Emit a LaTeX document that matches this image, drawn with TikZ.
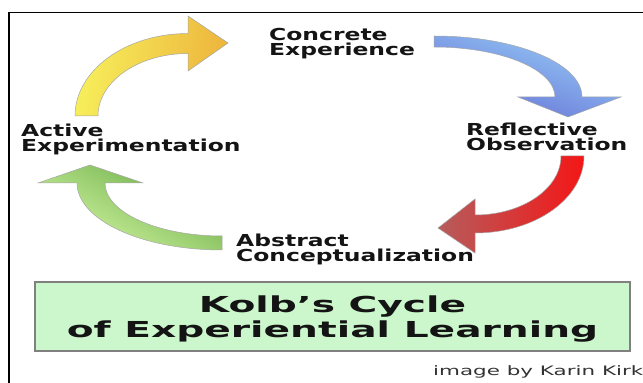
\documentclass[tikz,border=0pt]{standalone}
\usepackage{fontspec}
\setmainfont{DejaVu Sans}
\newfontfamily\lblfont[FakeStretch=1.42]{DejaVu Sans}
\newfontfamily\ttlfont[FakeStretch=1.78]{DejaVu Sans}
\newfontfamily\crfont[FakeStretch=1.65]{DejaVu Sans}
\definecolor{txt}{HTML}{141414}
\definecolor{yelA}{HTML}{F7F05C}
\definecolor{yelB}{HTML}{EDB43C}
\definecolor{bluA}{HTML}{96CCF6}
\definecolor{bluB}{HTML}{6670D6}
\definecolor{redA}{HTML}{F41616}
\definecolor{redB}{HTML}{B65C5C}
\definecolor{grnA}{HTML}{D6F7A4}
\definecolor{grnB}{HTML}{68AC46}
\definecolor{boxfill}{HTML}{CCF7CC}
\definecolor{boxline}{HTML}{808080}
\begin{document}
\begin{tikzpicture}[x=1pt,y=1pt,
  lbl/.style={anchor=base west, inner sep=0pt, align=left,
    font=\lblfont\bfseries\fontsize{16.5}{15}\selectfont, text=txt},
  arr/.style={draw=black!35, line width=0.5pt}]
\useasboundingbox (0,0) rectangle (643,383);
% frame
\draw[line width=1.3pt] (9,0) -- (9,370.3) -- (643,370.3);
% yellow arrow: Active -> Concrete
\path[arr, left color=yelA, right color=yelB, shading angle=80]
  (75,267) arc[start angle=180, end angle=90, x radius=113, y radius=82.5]
  -- (188,367) -- (228,340) -- (188,312) -- (188,329.5)
  arc[start angle=90, end angle=180, x radius=90, y radius=62.5] -- cycle;
% blue arrow: Concrete -> Reflective
\path[arr, top color=bluA, bottom color=bluB, shading angle=-20]
  (434,347) arc[start angle=90, end angle=0, x radius=148, y radius=61]
  -- (621,286) -- (568,266) -- (518,286) -- (555,286)
  arc[start angle=0, end angle=90, x radius=121, y radius=50] -- cycle;
% red arrow: Reflective -> Abstract
\path[arr, left color=redB, right color=redA]
  (584,227) arc[start angle=0, end angle=-90, x radius=109, y radius=77]
  -- (475,130) -- (438,155) -- (475,184) -- (475,168)
  arc[start angle=-90, end angle=0, x radius=86, y radius=59] -- cycle;
% green arrow: Abstract -> Active
\path[arr, top color=grnB, bottom color=grnA, shading angle=-30]
  (222,133) arc[start angle=-90, end angle=-180, x radius=145, y radius=67]
  -- (38,200) -- (90,218) -- (143,200) -- (105,200)
  arc[start angle=180, end angle=270, x radius=117, y radius=53] -- cycle;
% labels (base anchor = baseline of the last line)
\node[lbl] (ce) at (269,327) {Concrete\\Experience};
\node[lbl] (ae) at (21,231) {Active\\Experimentation};
\node[lbl] (ro) at (466,232) {Reflective\\Observation};
\node[lbl] (ac) at (236,121) {Abstract\\Conceptualization};
% title box
\node[draw=boxline, fill=boxfill, line width=1.4pt, minimum width=595pt,
  minimum height=69pt, inner sep=0pt] (box) at (332.5,66.5) {};
\node[font=\ttlfont\bfseries\fontsize{22}{25.5}\selectfont, text=txt,
  align=center, inner sep=0pt] (title) at ([yshift=-2.5pt]box.center)
  {Kolb’s Cycle\\of Experiential Learning};
% credit
\node[anchor=base west, inner sep=0pt, text=black!80,
  font=\crfont\fontsize{13}{15}\selectfont] (credit) at (433,7)
  {image by Karin Kirk};
\end{tikzpicture}
\end{document}
